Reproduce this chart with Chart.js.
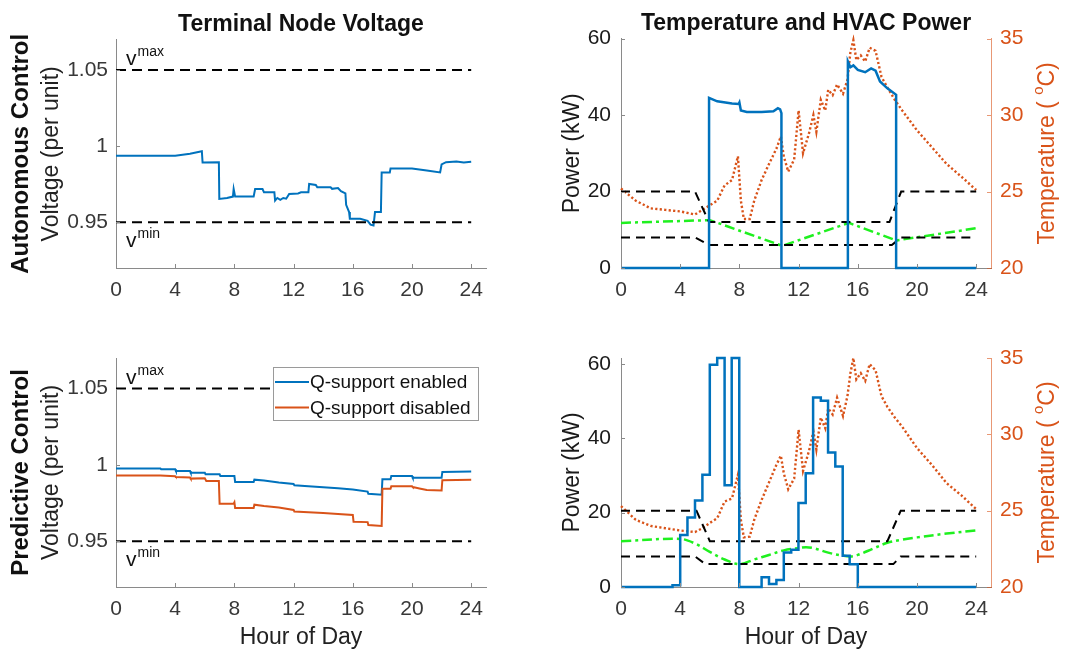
<!DOCTYPE html>
<html><head><meta charset="utf-8">
<script src="https://cdn.jsdelivr.net/npm/chart.js@4.4.0/dist/chart.umd.min.js"></script>
<style>
html,body{margin:0;padding:0;background:#fff;width:1080px;height:651px;overflow:hidden}
canvas{position:absolute}
</style></head><body>
<canvas id="c1" width="540" height="325" style="left:0;top:0"></canvas>
<canvas id="c2" width="540" height="325" style="left:540px;top:0"></canvas>
<canvas id="c3" width="540" height="326" style="left:0;top:325px"></canvas>
<canvas id="c4" width="540" height="326" style="left:540px;top:325px"></canvas>
<script>
// ---------- data ----------
const hourTicks = [0,4,8,12,16,20,24];
const voltTicks = [0.95,1,1.05];
const voltTickLabels = ['0.95','1','1.05'];
const powerTicks = [0,20,40,60];
const tempTicks = [20,25,30,35];

const limitHours = [0,24];
const vMaxLine = [1.05,1.05];
const vMinLine = [0.95,0.95];

// Autonomous control - terminal node voltage
const autoHours = [0,4.0,5.0,5.8,5.85,6.95,6.98,7.5,7.9,7.95,8.05,9.3,9.4,9.9,10.0,10.7,10.75,10.9,11.1,11.3,11.5,11.7,12.3,12.5,13.0,13.05,13.5,13.6,14.5,14.6,15.0,15.2,15.5,15.55,15.75,15.8,16.5,17.0,17.2,17.4,17.5,17.9,17.95,18.5,18.55,20.0,21.0,21.9,22.0,22.3,23.0,23.5,24.0];
const autoVolt = [0.9937,0.9937,0.995,0.9967,0.9893,0.9895,0.9654,0.9660,0.9669,0.9719,0.9669,0.9669,0.9719,0.9719,0.9697,0.9697,0.9643,0.9660,0.9648,0.9660,0.9655,0.9686,0.9690,0.9697,0.9697,0.9752,0.9745,0.9730,0.9730,0.9720,0.9725,0.9705,0.9690,0.9615,0.9567,0.9523,0.9523,0.9510,0.9485,0.9479,0.9567,0.9567,0.9828,0.9828,0.9854,0.9854,0.9840,0.9828,0.9880,0.9895,0.9900,0.9893,0.9898];

// Predictive control - voltage with / without Q-support
const predEnHours = [0,3.0,3.05,4.0,4.05,5.0,5.05,6.0,6.05,7.0,7.05,8.0,8.05,9.3,9.35,10.0,11.0,12.0,12.05,13.0,14.0,15.0,16.0,17.0,17.05,17.95,18.0,18.55,18.6,20.0,20.05,22.0,22.05,24.0];
const predEnVolt = [0.9976,0.9976,0.9971,0.9971,0.9960,0.9960,0.9949,0.9949,0.9938,0.9938,0.9927,0.9927,0.9887,0.9887,0.9903,0.9898,0.9885,0.9875,0.9867,0.9860,0.9853,0.9847,0.9838,0.9825,0.9810,0.9805,0.9905,0.9905,0.9927,0.9927,0.9916,0.9916,0.9954,0.9957];
const predDisHours = [0,3.0,4.0,4.05,5.0,5.05,6.0,6.1,6.95,7.0,7.95,8.0,8.05,9.3,9.35,10.0,11.0,12.0,12.05,13.0,14.0,15.0,16.0,16.05,17.0,17.05,17.95,18.0,18.55,18.6,20.0,20.05,20.5,21.0,22.0,22.05,24.0];
const predDisVolt = [0.9931,0.9931,0.9925,0.9920,0.9918,0.9910,0.9912,0.9895,0.9895,0.9746,0.9746,0.9755,0.9717,0.9717,0.9739,0.9730,0.9720,0.9705,0.9695,0.9690,0.9685,0.9678,0.9672,0.9628,0.9625,0.9606,0.9600,0.9843,0.9843,0.9860,0.9860,0.9855,0.9845,0.9835,0.9832,0.9900,0.9903];

// HVAC power (kW)
const powerAHours = [0,5.95,5.95,6.5,7.5,7.95,8.0,8.1,8.5,9.5,10.3,10.6,10.75,10.84,10.84,15.33,15.33,15.5,15.7,16,16.5,16.9,17.2,17.5,18,18.59,18.59,24];
const powerA = [0,0,44.5,43.6,43,42.9,43.3,41.2,40.8,40.8,41,41.8,41.5,40.5,0,0,54,52.5,53,51.8,51.2,52.2,51.6,48.8,47,45.3,0,0];
const powerBHours = [0,3.48,4.0,4.49,5.0,5.5,6.0,6.5,7.0,7.48,7.99,9.5,10.0,10.5,11.0,11.5,11.99,12.48,12.98,13.5,13.99,14.48,14.98,15.45,16.0,24];
const powerB = [0,0.5,14,18.7,23.3,30.2,59.8,61.6,27.4,61.6,0,2.6,0.8,1.9,9.25,10,22.6,30.6,51,50.1,36.2,32.4,8.4,6.1,0,0];

// Outdoor temperature (C)
const outHours = [0,1,2,3,4,5,5.5,6,6.5,7,7.5,7.9,8.1,8.3,8.7,9,9.5,10,10.5,10.8,11,11.3,11.7,12,12.3,12.7,13,13.2,13.5,13.8,14,14.3,14.6,15,15.3,15.5,15.7,15.9,16.2,16.5,16.8,17.2,17.6,18,18.5,19,20,21,22,23,24];
const outTempA = [25.2,24.4,23.9,23.8,23.7,23.5,23.8,24.1,24.4,25.4,25.75,27.3,24.4,23.2,23.2,24.4,25.75,26.8,27.8,28.6,27.3,26.3,27.1,30.3,27.5,28.8,30.0,28.9,31.0,30.3,31.65,31.3,32.0,31.4,32.3,34.1,34.9,33.6,33.9,33.5,34.4,34.2,32.5,31.8,31.0,30.3,29.0,27.9,26.8,25.97,25.1];
const outTempB = [25.3,24.4,24.0,23.85,23.7,23.6,23.85,24.2,24.5,25.6,25.8,27.35,24.4,23.25,23.3,24.4,25.7,26.85,28.0,28.6,27.45,26.4,27.1,30.3,27.6,28.9,30.2,29.0,31.1,30.4,31.7,31.3,32.4,31.2,32.5,34.0,35.0,33.6,34.0,33.5,34.6,34.2,32.5,31.8,31.1,30.5,29.1,28.0,26.8,26.0,25.1];

// Indoor temperature (C)
const indoorAHours = [0,6.0,10.9,15.4,18.6,24];
const indoorA = [22.95,23.13,21.45,22.95,21.8,22.6];
const indoorBHours = [0,4,5,6,7,8,9,10,11,12,12.5,13,14,15,15.5,16,17,18,19,20,22,24];
const indoorB = [23.0,23.15,22.85,22.3,21.8,21.5,21.8,22.1,22.4,22.55,22.6,22.55,22.25,22.05,22.0,22.1,22.5,22.9,23.1,23.25,23.5,23.7];

// Comfort bounds (C)
const upperAHours = [0,5.0,5.95,18.14,18.93,24];
const upperA = [25,25,23,23,25,25];
const lowerAHours = [0,5.0,5.95,18.3,18.93,24];
const lowerA = [22,22,21.5,21.5,22,22];
const upperBHours = [0,5.1,6.0,18.0,18.9,24];
const upperB = [25,25,23,23,25,25];
const lowerBHours = [0,5.0,5.7,18.4,18.9,24];
const lowerB = [22,22,21.5,21.5,22,22];

// ---------- style ----------
const FONT = "'Liberation Sans', Arial, Helvetica, sans-serif";
const BLUE = '#0072BD', ORANGE = '#D95319', GREEN = '#1FF01F';
const AXIS = '#8a8a8a';
const TICKFONT = 21;
Chart.defaults.font.family = FONT;

const pts = (xs, ys) => xs.map((x,i) => ({x, y: ys[i]}));

const decor = {
  id: 'decor',
  afterDraw(chart, args, o) {
    const ctx = chart.ctx, ca = chart.chartArea;
    // inward tick marks
    (o.tickMarks || []).forEach(t => {
      const s = chart.scales[t.id];
      ctx.save();
      ctx.strokeStyle = t.color; ctx.lineWidth = 1;
      s.ticks.forEach(tk => {
        const p = Math.round(s.getPixelForValue(tk.value)) + 0.5;
        ctx.beginPath();
        if (t.id === 'x') { ctx.moveTo(p, ca.bottom); ctx.lineTo(p, ca.bottom - 4); }
        else if (s.position === 'left') { ctx.moveTo(ca.left, p); ctx.lineTo(ca.left + 4, p); }
        else { ctx.moveTo(ca.right, p); ctx.lineTo(ca.right - 4, p); }
        ctx.stroke();
      });
      ctx.restore();
    });
    // row label
    if (o.rowLabel) {
      ctx.save();
      ctx.font = 'bold 24px ' + FONT; ctx.fillStyle = '#111';
      ctx.translate(o.rowLabel.x, (ca.top + ca.bottom) / 2);
      ctx.rotate(-Math.PI / 2);
      ctx.textAlign = 'center'; ctx.textBaseline = 'middle';
      ctx.fillText(o.rowLabel.text, 0, 0);
      ctx.restore();
    }
    // right axis title with superscript degree ring
    if (o.rightTitle) {
      const R = o.rightTitle;
      ctx.save();
      ctx.fillStyle = R.color; ctx.textBaseline = 'middle'; ctx.textAlign = 'left';
      ctx.translate(R.x, (ca.top + ca.bottom) / 2);
      ctx.rotate(-Math.PI / 2);
      ctx.font = '23px ' + FONT;
      const w1 = ctx.measureText(R.before).width;
      const w3 = ctx.measureText(R.after).width;
      ctx.font = '15px ' + FONT;
      const w2 = ctx.measureText(R.sup).width;
      let x = -(w1 + w2 + w3) / 2;
      ctx.font = '23px ' + FONT;
      ctx.fillText(R.before, x, 0); x += w1;
      ctx.font = '15px ' + FONT;
      ctx.fillText(R.sup, x, -9); x += w2;
      ctx.font = '23px ' + FONT;
      ctx.fillText(R.after, x, 0);
      ctx.restore();
    }
    // v^max / v^min labels
    if (o.vLabels) {
      const sx = chart.scales.x, sy = chart.scales.y;
      const x0 = sx.getPixelForValue(0) + 10;
      const drawV = (sup, base) => {
        ctx.save();
        ctx.fillStyle = '#111'; ctx.textAlign = 'left'; ctx.textBaseline = 'alphabetic';
        ctx.font = '21px ' + FONT;
        ctx.fillText('v', x0, base);
        const w = ctx.measureText('v').width;
        ctx.font = '14px ' + FONT;
        ctx.fillText(sup, x0 + w + 1, base - 9);
        ctx.restore();
      };
      drawV('max', sy.getPixelForValue(1.05) - 5);
      drawV('min', sy.getPixelForValue(0.95) + 25);
    }
    // legend box
    if (o.legendBox) {
      const L = o.legendBox;
      const bx = ca.right - 8 - L.w, by = ca.top + 9;
      ctx.save();
      ctx.fillStyle = '#fff'; ctx.fillRect(bx, by, L.w, L.h);
      ctx.strokeStyle = '#9a9a9a'; ctx.lineWidth = 1;
      ctx.strokeRect(Math.round(bx) + 0.5, Math.round(by) + 0.5, L.w, L.h);
      ctx.font = '19px ' + FONT; ctx.textBaseline = 'middle'; ctx.textAlign = 'left';
      L.items.forEach((di, k) => {
        const ds = chart.data.datasets[di];
        const yy = by + 15 + k * 25.6;
        ctx.strokeStyle = ds.borderColor; ctx.lineWidth = 2; ctx.setLineDash([]);
        ctx.beginPath(); ctx.moveTo(bx + 2, yy); ctx.lineTo(bx + 36, yy); ctx.stroke();
        ctx.fillStyle = '#111';
        ctx.fillText(ds.label, bx + 37, yy + 1);
      });
      ctx.restore();
    }
  }
};

function xScale(withTitle) {
  return {
    type: 'linear', min: 0, max: 25,
    afterBuildTicks: s => { s.ticks = hourTicks.map(v => ({value: v})); },
    afterFit: s => { s.height = withTitle ? 64 : 57; },
    grid: {display: false, drawTicks: false},
    border: {display: true, color: AXIS, width: 1},
    ticks: {font: {size: TICKFONT}, color: '#383838', padding: 10, maxRotation: 0, autoSkip: false},
    title: {display: withTitle, text: 'Hour of Day', font: {size: 23}, color: '#222', padding: {top: 0, bottom: 0}}
  };
}

function voltChart(id, title, rowLabel, datasets, topPad, legend) {
  return new Chart(document.getElementById(id), {
    type: 'line',
    data: {datasets},
    options: {
      responsive: false, animation: false, devicePixelRatio: 1,
      layout: {padding: {left: 0, right: 54, top: topPad, bottom: 0}},
      elements: {point: {radius: 0}, line: {tension: 0, borderJoinStyle: 'miter'}},
      plugins: {
        legend: {display: false}, tooltip: {enabled: false},
        title: title ? {display: true, text: title, fullSize: false, font: {size: 23, weight: 'bold'}, color: '#111', padding: {top: 10.5, bottom: 1.5}} : {display: false},
        decor: {
          tickMarks: [{id: 'x', color: AXIS}, {id: 'y', color: AXIS}],
          rowLabel: {text: rowLabel, x: 21},
          vLabels: true,
          legendBox: legend
        }
      },
      scales: {
        x: xScale(!title),
        y: {
          type: 'linear', position: 'left', min: 0.92, max: 1.07,
          afterBuildTicks: s => { s.ticks = voltTicks.map(v => ({value: v})); },
          afterFit: s => { s.width = 116; },
          grid: {display: false, drawTicks: false},
          border: {display: true, color: AXIS, width: 1},
          ticks: {font: {size: TICKFONT}, color: '#383838', padding: 8,
                  callback: v => voltTickLabels[voltTicks.indexOf(v)]},
          title: {display: true, text: 'Voltage (per unit)', font: {size: 23}, color: '#222', padding: {top: 38, bottom: 0}}
        }
      }
    },
    plugins: [decor]
  });
}

function limitSets() {
  return [
    {label: 'vmax', data: pts(limitHours, vMaxLine), borderColor: '#000', borderWidth: 2, borderDash: [10, 6]},
    {label: 'vmin', data: pts(limitHours, vMinLine), borderColor: '#000', borderWidth: 2, borderDash: [10, 6]}
  ];
}

voltChart('c1', 'Terminal Node Voltage', 'Autonomous Control', [
  ...limitSets(),
  {label: 'Voltage', data: pts(autoHours, autoVolt), borderColor: BLUE, borderWidth: 2}
], 0, null);

voltChart('c3', null, 'Predictive Control', [
  ...limitSets(),
  {label: 'Q-support disabled', data: pts(predDisHours, predDisVolt), borderColor: ORANGE, borderWidth: 2},
  {label: 'Q-support enabled', data: pts(predEnHours, predEnVolt), borderColor: BLUE, borderWidth: 2}
], 33, {w: 205, h: 53, items: [3, 2]});

function hvacChart(id, title, powerMax, datasets, topPad) {
  return new Chart(document.getElementById(id), {
    type: 'line',
    data: {datasets},
    options: {
      responsive: false, animation: false, devicePixelRatio: 1,
      layout: {padding: {left: 0, right: 0, top: topPad, bottom: 0}},
      elements: {point: {radius: 0}, line: {tension: 0, borderJoinStyle: 'miter'}},
      plugins: {
        legend: {display: false}, tooltip: {enabled: false},
        title: title ? {display: true, text: title, fullSize: false, font: {size: 23, weight: 'bold'}, color: '#111', padding: {top: 9.5, bottom: 1.5}} : {display: false},
        decor: {
          tickMarks: [{id: 'x', color: AXIS}, {id: 'y', color: AXIS}, {id: 'y2', color: 'rgba(217,83,25,0.6)'}],
          rightTitle: {before: 'Temperature ( ', sup: 'o', after: 'C)', x: 508, color: ORANGE}
        }
      },
      scales: {
        x: xScale(!title),
        y: {
          type: 'linear', position: 'left', min: 0, max: powerMax,
          afterBuildTicks: s => { s.ticks = powerTicks.map(v => ({value: v})); },
          afterFit: s => { s.width = 81; },
          grid: {display: false, drawTicks: false},
          border: {display: true, color: AXIS, width: 1},
          ticks: {font: {size: TICKFONT}, color: '#1a1a1a', padding: 10},
          title: {display: true, text: 'Power (kW)', font: {size: 23}, color: '#1a1a1a', padding: {top: 19, bottom: 0}}
        },
        y2: {
          type: 'linear', position: 'right', min: 20, max: 35,
          afterBuildTicks: s => { s.ticks = tempTicks.map(v => ({value: v})); },
          afterFit: s => { s.width = 89; },
          grid: {display: false, drawTicks: false},
          border: {display: true, color: 'rgba(217,83,25,0.6)', width: 1},
          ticks: {font: {size: TICKFONT}, color: ORANGE, padding: 9},
          title: {display: false}
        }
      }
    },
    plugins: [decor]
  });
}

const outStyle = {borderColor: ORANGE, borderWidth: 2.4, borderDash: [2.2, 2.3], yAxisID: 'y2', clip: 4};

hvacChart('c2', 'Temperature and HVAC Power', 60, [
  {label: 'HVAC power', data: pts(powerAHours, powerA), borderColor: BLUE, borderWidth: 2.5, yAxisID: 'y', clip: 4},
  {label: 'Upper bound', data: pts(upperAHours, upperA), borderColor: '#000', borderWidth: 2, borderDash: [9, 6], yAxisID: 'y2'},
  {label: 'Lower bound', data: pts(lowerAHours, lowerA), borderColor: '#000', borderWidth: 2, borderDash: [9, 6], yAxisID: 'y2'},
  {label: 'Indoor temperature', data: pts(indoorAHours, indoorA), borderColor: GREEN, borderWidth: 2.5, borderDash: [10, 4, 3, 4], yAxisID: 'y2'},
  {label: 'Outdoor temperature', data: pts(outHours, outTempA), ...outStyle}
], 0);

hvacChart('c4', null, Math.max(...powerB), [
  {label: 'HVAC power', data: pts(powerBHours, powerB), borderColor: BLUE, borderWidth: 2.5, stepped: 'before', yAxisID: 'y', clip: 4},
  {label: 'Upper bound', data: pts(upperBHours, upperB), borderColor: '#000', borderWidth: 2, borderDash: [9, 6], yAxisID: 'y2'},
  {label: 'Lower bound', data: pts(lowerBHours, lowerB), borderColor: '#000', borderWidth: 2, borderDash: [9, 6], yAxisID: 'y2'},
  {label: 'Indoor temperature', data: pts(indoorBHours, indoorB), borderColor: GREEN, borderWidth: 2.5, borderDash: [10, 4, 3, 4], tension: 0.35, yAxisID: 'y2'},
  {label: 'Outdoor temperature', data: pts(outHours, outTempB), ...outStyle}
], 33);
</script>
</body></html>
